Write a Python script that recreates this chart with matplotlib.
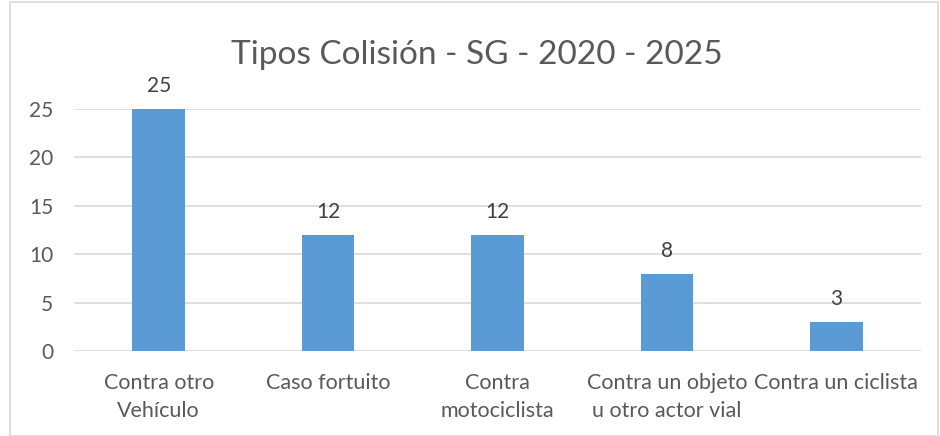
import matplotlib
matplotlib.use('Agg')
import matplotlib.pyplot as plt
from matplotlib.patches import Rectangle

# data
categories = ['Contra otro\nVehículo', 'Caso fortuito', 'Contra\nmotociclista',
              'Contra un objeto\nu otro actor vial', 'Contra un ciclista']
values = [25, 12, 12, 8, 3]
yticks = [0, 5, 10, 15, 20, 25]

plt.rcParams['font.family'] = ['Lato', 'DejaVu Sans']
text_color = '#595959'

fig = plt.figure(figsize=(9.4, 4.36), dpi=100)
ax = fig.add_axes([74 / 940, 85 / 436, 847 / 940, 242 / 436])

x = range(len(values))
ax.bar(x, values, width=0.31, color='#5B9BD5', zorder=3)
for xi, v in zip(x, values):
    ax.annotate(str(v), (xi, v), xytext=(0, 9), textcoords='offset points',
                ha='center', va='bottom', fontsize=15, color='#404040',
                annotation_clip=False)

ax.set_xlim(-0.5, len(values) - 0.5)
ax.set_ylim(0, 25)
ax.set_yticks(yticks)
ax.set_xticks(list(x))
ax.set_xticklabels(categories, fontsize=15.5, color=text_color, linespacing=1.5)
ax.tick_params(axis='y', labelsize=15, labelcolor=text_color, length=0, pad=15)
ax.tick_params(axis='x', length=0, pad=16)
ax.grid(axis='y', color='#D9D9D9', linewidth=1.2, zorder=0)
ax.set_axisbelow(True)
for s in ax.spines.values():
    s.set_visible(False)

fig.text(477 / 940, 1 - 55 / 436, 'Tipos Colisión - SG - 2020 - 2025',
         ha='center', va='center', fontsize=24, color=text_color)

# chart border
fig.patches.append(Rectangle((10 / 940, 0.001), 928 / 940, 0.995,
                             transform=fig.transFigure, fill=False,
                             edgecolor='#D9D9D9', linewidth=1.2))

plt.savefig('out.png', dpi=100)
